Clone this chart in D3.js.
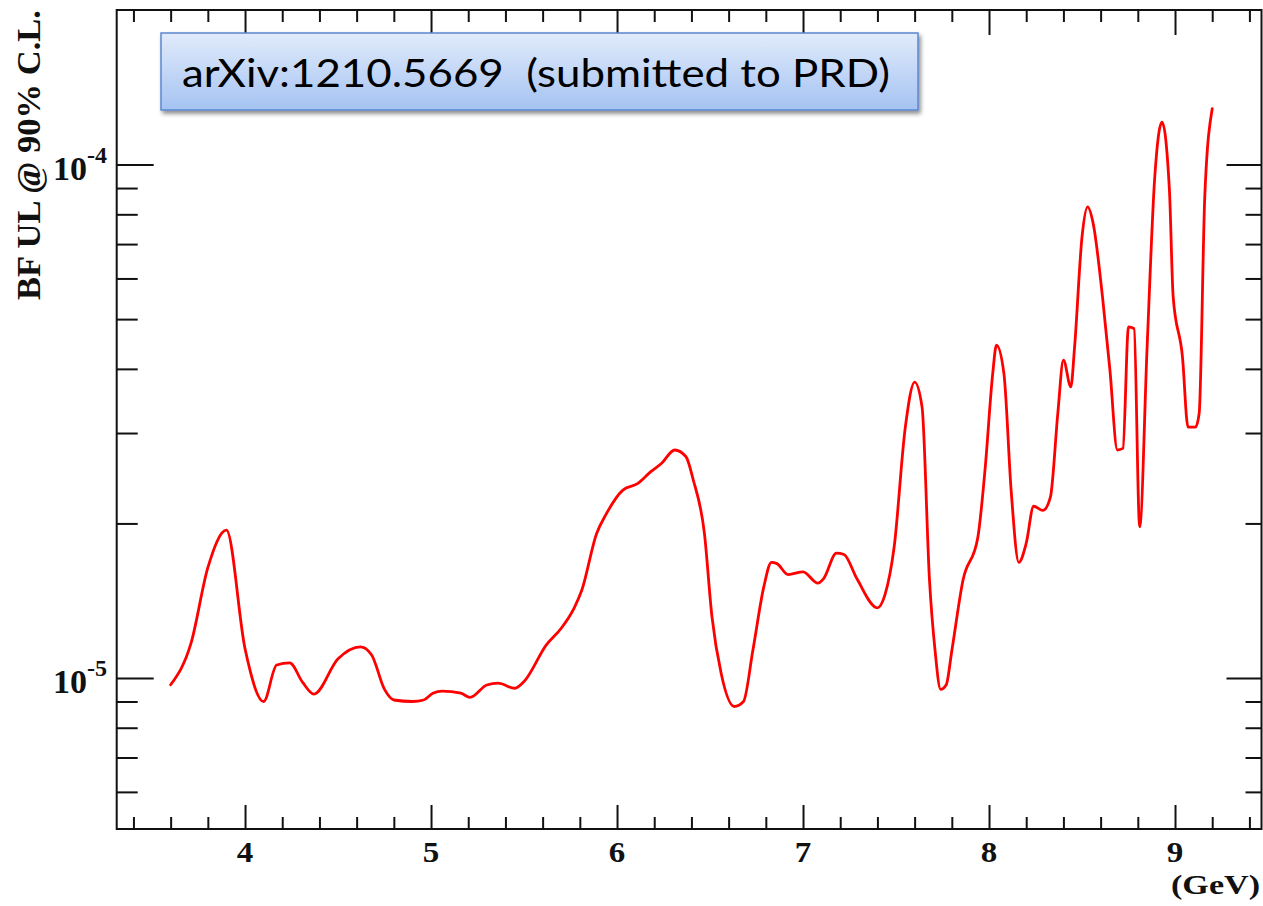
<!DOCTYPE html>
<html>
<head>
<meta charset="utf-8">
<script src="https://cdn.jsdelivr.net/npm/d3@7"></script>
<style>
  html, body { margin: 0; padding: 0; background: #fff; }
  svg { display: block; }
</style>
</head>
<body>
<svg id="chart" width="1263" height="906"></svg>
<script>
// ---- data ----
const mass = [3.60, 3.71, 3.80, 3.90, 4.00, 4.10, 4.17, 4.24, 4.31, 4.37, 4.50, 4.62, 4.68, 4.75, 4.80,
  4.90, 4.96, 5.01, 5.06, 5.16, 5.21, 5.30, 5.36, 5.45, 5.50, 5.62, 5.70, 5.77, 5.81, 5.89, 5.94, 6.03,
  6.11, 6.18, 6.24, 6.31, 6.37, 6.41, 6.47, 6.51, 6.56, 6.63, 6.68, 6.73, 6.79, 6.83, 6.86, 6.92, 7.00,
  7.08, 7.11, 7.18, 7.22, 7.29, 7.40, 7.44, 7.49, 7.55, 7.60, 7.64, 7.68, 7.71, 7.74, 7.77, 7.80, 7.86,
  7.94, 7.98, 8.02, 8.04, 8.08, 8.12, 8.16, 8.20, 8.24, 8.29, 8.33, 8.37, 8.40, 8.44, 8.46, 8.50, 8.53,
  8.56, 8.61, 8.65, 8.69, 8.72, 8.75, 8.78, 8.81, 8.85, 8.89, 8.93, 8.97, 8.99, 9.04, 9.07, 9.11, 9.13,
  9.16, 9.20];
const upperLimit = [9.7e-6, 1.17e-5, 1.64e-5, 1.94e-5, 1.14e-5, 9.0e-6, 1.06e-5, 1.07e-5, 9.8e-6, 9.3e-6,
  1.09e-5, 1.15e-5, 1.11e-5, 9.5e-6, 9.06e-6, 9.0e-6, 9.06e-6, 9.34e-6, 9.43e-6, 9.34e-6, 9.17e-6, 9.69e-6,
  9.77e-6, 9.55e-6, 9.84e-6, 1.16e-5, 1.25e-5, 1.37e-5, 1.48e-5, 1.91e-5, 2.08e-5, 2.32e-5, 2.39e-5,
  2.52e-5, 2.62e-5, 2.78e-5, 2.70e-5, 2.43e-5, 1.91e-5, 1.32e-5, 1.02e-5, 8.8e-6, 9.0e-6, 1.13e-5,
  1.51e-5, 1.68e-5, 1.67e-5, 1.59e-5, 1.61e-5, 1.53e-5, 1.56e-5, 1.75e-5, 1.74e-5, 1.56e-5, 1.37e-5,
  1.45e-5, 1.80e-5, 3.08e-5, 3.77e-5, 3.37e-5, 1.55e-5, 1.13e-5, 9.5e-6, 9.7e-6, 1.13e-5, 1.55e-5,
  1.88e-5, 2.58e-5, 3.92e-5, 4.45e-5, 3.92e-5, 2.29e-5, 1.68e-5, 1.83e-5, 2.16e-5, 2.12e-5, 2.25e-5,
  3.28e-5, 4.16e-5, 3.69e-5, 4.41e-5, 7.23e-5, 8.27e-5, 7.68e-5, 5.53e-5, 3.98e-5, 2.78e-5, 2.80e-5,
  4.83e-5, 4.79e-5, 1.97e-5, 4.41e-5, 9.32e-5, 1.21e-4, 8.91e-5, 5.53e-5, 4.22e-5, 3.08e-5, 3.08e-5,
  3.28e-5, 8.65e-5, 1.285e-4];

const xTickValues = [4, 5, 6, 7, 8, 9];
const xTickLabels = ["4", "5", "6", "7", "8", "9"];
const yTickValues = [1e-5, 1e-4];
const yTickBase = ["10", "10"];
const yTickExp = ["-5", "-4"];
const yTitle = "BF UL @ 90% C.L.";
const xUnit = "(GeV)";
const noteText = "arXiv:1210.5669  (submitted to PRD)";

// ---- layout ----
const L = 116.7, R = 1261.5, T = 10, B = 829;
const svg = d3.select("#chart");

const x = d3.scaleLinear().domain([3.31, 9.465]).range([L, R]);
const y = d3.scaleLog().domain([5.08e-6, 2.0e-4]).range([B, T]);

const xMinor = d3.range(3.4, 9.41, 0.2).map(v => +v.toFixed(1)).filter(v => Math.abs(v - Math.round(v)) > 1e-6);
const yMinor = [];
[1e-6, 1e-5].forEach(d => { for (let k = 2; k <= 9; k++) { const v = k * d; if (v > 5.08e-6 && v < 1.99e-4) yMinor.push(v); } });

// ---- defs ----
const defs = svg.append("defs");
const grad = defs.append("linearGradient").attr("id", "boxgrad").attr("x1", 0).attr("y1", 0).attr("x2", 0).attr("y2", 1);
grad.append("stop").attr("offset", "0%").attr("stop-color", "#e1ebfb");
grad.append("stop").attr("offset", "100%").attr("stop-color", "#a5c3f2");
const filt = defs.append("filter").attr("id", "shadow").attr("x", "-5%").attr("y", "-20%").attr("width", "115%").attr("height", "150%");
filt.append("feDropShadow").attr("dx", 2).attr("dy", 3).attr("stdDeviation", 2.2)
  .attr("flood-color", "#000").attr("flood-opacity", 0.45);

// ---- axes via d3 axis generators ----
const axisStroke = "#111";
function styleAxis(g) {
  g.select(".domain").remove();
  g.selectAll(".tick line").attr("stroke", axisStroke).attr("stroke-width", 2);
  g.selectAll(".tick text").remove();
}
// bottom
svg.append("g").attr("transform", `translate(0,${B})`)
  .call(d3.axisTop(x).tickValues(xTickValues).tickSize(24)).call(styleAxis);
svg.append("g").attr("transform", `translate(0,${B})`)
  .call(d3.axisTop(x).tickValues(xMinor).tickSize(12)).call(styleAxis);
// top
svg.append("g").attr("transform", `translate(0,${T})`)
  .call(d3.axisBottom(x).tickValues(xTickValues).tickSize(25)).call(styleAxis);
svg.append("g").attr("transform", `translate(0,${T})`)
  .call(d3.axisBottom(x).tickValues(xMinor).tickSize(12)).call(styleAxis);
// left
svg.append("g").attr("transform", `translate(${L},0)`)
  .call(d3.axisRight(y).tickValues(yTickValues).tickSize(37)).call(styleAxis);
svg.append("g").attr("transform", `translate(${L},0)`)
  .call(d3.axisRight(y).tickValues(yMinor).tickSize(21)).call(styleAxis);
// right
svg.append("g").attr("transform", `translate(${R},0)`)
  .call(d3.axisLeft(y).tickValues(yTickValues).tickSize(35)).call(styleAxis);
svg.append("g").attr("transform", `translate(${R},0)`)
  .call(d3.axisLeft(y).tickValues(yMinor).tickSize(16)).call(styleAxis);

// frame
svg.append("rect").attr("x", L).attr("y", T).attr("width", R - L).attr("height", B - T)
  .attr("fill", "none").attr("stroke", axisStroke).attr("stroke-width", 2);

// ---- data line ----
const pts = mass.map((m, i) => [m, upperLimit[i]]);
svg.append("path").datum(pts)
  .attr("fill", "none").attr("stroke", "#ff0000").attr("stroke-width", 2.8)
  .attr("stroke-linejoin", "round").attr("stroke-linecap", "round")
  .attr("d", d3.line().x(d => x(d[0])).y(d => y(d[1])).curve(d3.curveMonotoneX));

// ---- tick labels ----
const serif = "'Liberation Serif', 'Times New Roman', serif";
svg.append("g").selectAll("text").data(xTickValues).join("text")
  .attr("transform", d => `translate(${x(d)},862) scale(1.1,1)`)
  .attr("text-anchor", "middle").attr("font-family", serif).attr("font-weight", "bold")
  .attr("font-size", 30).attr("fill", "#111")
  .text((d, i) => xTickLabels[i]);

const yl = svg.append("g").selectAll("text").data(yTickValues).join("text")
  .attr("x", 107).attr("y", d => y(d) + 15)
  .attr("text-anchor", "end").attr("font-family", serif).attr("font-weight", "bold")
  .attr("fill", "#111");
yl.append("tspan").attr("font-size", 34).text((d, i) => yTickBase[i]);
yl.append("tspan").attr("font-size", 24).attr("dy", -17).text((d, i) => yTickExp[i]);

// axis titles
svg.append("text").attr("transform", "translate(40,10) rotate(-90)")
  .attr("text-anchor", "end").attr("font-family", serif).attr("font-weight", "bold")
  .attr("font-size", 33).attr("fill", "#111")
  .attr("textLength", 290).attr("lengthAdjust", "spacingAndGlyphs").text(yTitle);
svg.append("text").attr("x", 1260).attr("y", 894)
  .attr("text-anchor", "end").attr("font-family", serif).attr("font-weight", "bold")
  .attr("font-size", 28).attr("fill", "#111")
  .attr("textLength", 89).attr("lengthAdjust", "spacingAndGlyphs").text(xUnit);

// ---- annotation box ----
svg.append("rect").attr("x", 161).attr("y", 33).attr("width", 757).attr("height", 77)
  .attr("fill", "url(#boxgrad)").attr("stroke", "#5b87cf").attr("stroke-width", 1.5)
  .attr("filter", "url(#shadow)");
svg.append("text").attr("x", 182).attr("y", 87)
  .attr("font-family", "Lato, 'Open Sans', sans-serif").attr("font-size", 39).attr("fill", "#000")
  .attr("textLength", 708).attr("lengthAdjust", "spacingAndGlyphs")
  .style("white-space", "pre").text(noteText);
</script>
</body>
</html>
